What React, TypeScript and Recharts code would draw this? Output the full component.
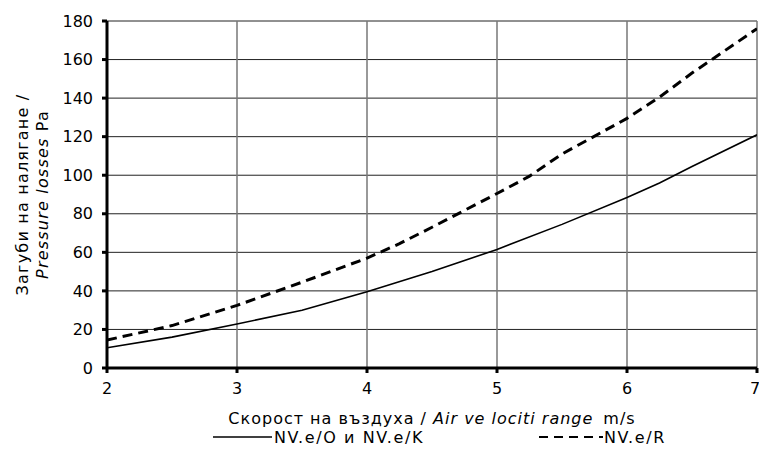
import React from 'react';
import { LineChart, Line, XAxis, YAxis, CartesianGrid } from 'recharts';

const xTicks = [2, 3, 4, 5, 6, 7];
const yTicks = [0, 20, 40, 60, 80, 100, 120, 140, 160, 180];

const seriesNames = ['NV.e/O и NV.e/K', 'NV.e/R'];

const solidX = [2, 2.5, 3, 3.5, 4, 4.5, 5, 5.5, 6, 6.25, 6.5, 7];
const solidY = [10.5, 16, 22.8, 30, 39.6, 50, 61.5, 74.5, 88.5, 96, 104.5, 121];

const dashedX = [2, 2.5, 3, 3.5, 4, 4.25, 4.5, 5, 5.25, 5.5, 6, 6.25, 6.5, 7];
const dashedY = [14.5, 22, 32.5, 44.5, 57, 64.5, 73, 90.5, 99.5, 111, 129.5, 140.5, 153, 176];

const solidData = solidX.map((x, i) => ({ x, y: solidY[i] }));
const dashedData = dashedX.map((x, i) => ({ x, y: dashedY[i] }));

const FONT = '"DejaVu Sans", Verdana, sans-serif';

const XLabel = (props: any) => {
  const vb = props.viewBox || {};
  const cx = vb.x + vb.width / 2;
  return (
    <text x={cx} y={424} textAnchor="middle" fontFamily={FONT} fontSize={16} letterSpacing={1.0} fill="#000">
      <tspan>Скорост на въздуха / </tspan>
      <tspan fontStyle="italic">Air ve lociti range</tspan>
      <tspan dx={10}>m/s</tspan>
    </text>
  );
};

const YLabel = (props: any) => {
  const vb = props.viewBox || {};
  const cy = vb.y + vb.height / 2;
  return (
    <g>
      <text
        x={28}
        y={cy}
        transform={`rotate(-90 28 ${cy})`}
        textAnchor="middle"
        fontFamily={FONT}
        fontSize={16}
        letterSpacing={1.2}
        fill="#000"
      >
        Загуби на налягане /
      </text>
      <text
        x={48}
        y={cy}
        transform={`rotate(-90 48 ${cy})`}
        textAnchor="middle"
        fontFamily={FONT}
        fontSize={16}
        letterSpacing={1.2}
        fill="#000"
      >
        <tspan fontStyle="italic">Pressure losses</tspan>
        <tspan> Pa</tspan>
      </text>
    </g>
  );
};

export default function App() {
  return (
    <div style={{ position: 'absolute', left: 0, top: 0, width: 759, height: 456, background: '#fff' }}>
      <LineChart
        width={759}
        height={456}
        margin={{ top: 21, right: 2, left: 0, bottom: 28 }}
      >
        <CartesianGrid horizontal={true} vertical={false} stroke="#222" strokeWidth={1} />
        <CartesianGrid horizontal={false} vertical={true} stroke="#777" strokeWidth={1.5} />
        <XAxis
          type="number"
          dataKey="x"
          domain={[2, 7]}
          ticks={xTicks}
          allowDataOverflow
          height={60}
          axisLine={{ stroke: '#000', strokeWidth: 3 }}
          tickLine={{ stroke: '#000', strokeWidth: 3 }}
          tickSize={5}
          tickMargin={10}
          tick={{ fill: '#000', fontFamily: FONT, fontSize: 16 }}
          label={{ content: XLabel }}
        />
        <YAxis
          type="number"
          dataKey="y"
          domain={[0, 180]}
          ticks={yTicks}
          allowDataOverflow
          width={107}
          axisLine={{ stroke: '#000', strokeWidth: 3 }}
          tickLine={{ stroke: '#000', strokeWidth: 3 }}
          tickSize={5}
          tickMargin={9}
          tick={{ fill: '#000', fontFamily: FONT, fontSize: 16 }}
          label={{ content: YLabel }}
        />
        <Line
          data={solidData}
          dataKey="y"
          name={seriesNames[0]}
          type="linear"
          stroke="#000"
          strokeWidth={1.6}
          dot={false}
          isAnimationActive={false}
        />
        <Line
          data={dashedData}
          dataKey="y"
          name={seriesNames[1]}
          type="linear"
          stroke="#000"
          strokeWidth={3}
          strokeDasharray="10 6"
          dot={false}
          isAnimationActive={false}
        />
      </LineChart>
      <div
        style={{
          position: 'absolute',
          top: 427,
          left: 0,
          width: 759,
          height: 20,
          fontFamily: FONT,
          fontSize: 16,
          letterSpacing: 1.6,
          color: '#000',
        }}
      >
        <div style={{ position: 'absolute', left: 213, top: 0, display: 'flex', alignItems: 'center', height: 20 }}>
          <svg width={60} height={20}>
            <line x1={0} y1={10} x2={59} y2={10} stroke="#000" strokeWidth={1.6} />
          </svg>
          <span style={{ marginLeft: 1 }}>{seriesNames[0]}</span>
        </div>
        <div style={{ position: 'absolute', left: 539, top: 0, display: 'flex', alignItems: 'center', height: 20 }}>
          <svg width={64} height={20}>
            <line x1={0} y1={10} x2={64} y2={10} stroke="#000" strokeWidth={2} strokeDasharray="9 6" />
          </svg>
          <span style={{ marginLeft: 1 }}>{seriesNames[1]}</span>
        </div>
      </div>
    </div>
  );
}
